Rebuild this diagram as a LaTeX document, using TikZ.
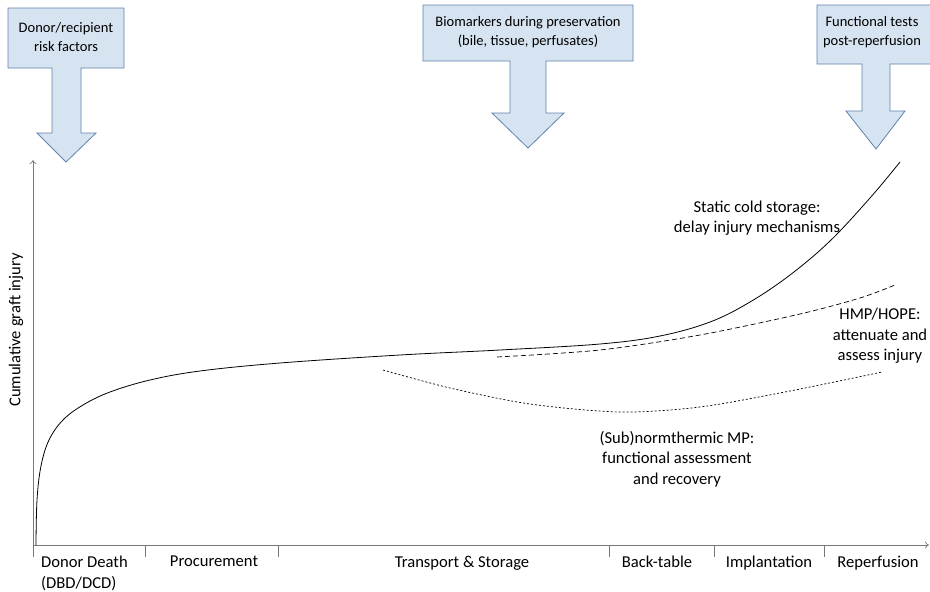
\documentclass[tikz,border=0pt]{standalone}
\usepackage{fontspec}
\setmainfont{Carlito}
\usetikzlibrary{arrows.meta}
\definecolor{callfill}{RGB}{214,228,241}
\definecolor{calldraw}{RGB}{96,130,172}
\definecolor{axisgray}{RGB}{120,120,120}
\tikzset{
  callout/.style={fill=callfill,draw=calldraw,line width=0.8pt},
  calltext/.style={align=center,font=\fontsize{14.5}{19}\selectfont,inner sep=0pt},
  lbl/.style={align=center,font=\fontsize{16.6}{20.5}\selectfont,inner sep=0pt},
  axisline/.style={draw=axisgray,line width=0.7pt},
  curve/.style={line width=0.8pt,black},
}
\begin{document}
\begin{tikzpicture}[x=1pt,y=-1pt]
\useasboundingbox (0,0) rectangle (930,592);
% callouts
\draw[callout] (8,8) -- (124,8) -- (124,68) -- (81,68) -- (81,133) -- (96,133) -- (66,162) -- (37,133) -- (52,133) -- (52,68) -- (8,68) -- cycle;
\node[calltext] (c1) at (66,37) {Donor/recipient\\risk factors};
\draw[callout] (423,5) -- (633,5) -- (633,61) -- (546,61) -- (546,113) -- (564,113) -- (528,148) -- (492,113) -- (510,113) -- (510,61) -- (423,61) -- cycle;
\node[calltext] (c2) at (528,32) {Biomarkers during preservation\\(bile, tissue, perfusates)};
\begin{scope}
\clip (0,0) rectangle (930,592);
\draw[callout] (817,5) -- (940,5) -- (940,64) -- (890,64) -- (890,111) -- (905,111) -- (876,149) -- (846,111) -- (862,111) -- (862,64) -- (817,64) -- cycle;
\end{scope}
\node[calltext] (c3) at (872,32) {Functional tests\\post-reperfusion};
% axes
\coordinate (o) at (33,545);
\coordinate (ytop) at (33,160);
\coordinate (xend) at (929,545);
\draw[axisline,-{To[length=4pt,width=7pt]}] (o) -- (ytop);
\draw[axisline,-{To[length=4pt,width=7pt]}] (o) -- (xend);
\foreach \x in {33,145,278,609,714,824}{
  \draw[axisline] (\x,545) -- (\x,557);
}
\node[lbl,rotate=90] (ylab) at (16,330) {Cumulative graft injury};
% phase labels
\node[lbl,anchor=north west,align=left] (p1) at (41,556) {Donor Death\\(DBD/DCD)};
\node[lbl,anchor=north] (p2) at (214,556) {Procurement};
\node[lbl,anchor=north] (p3) at (462,556) {Transport \& Storage};
\node[lbl,anchor=north] (p4) at (657,556) {Back-table};
\node[lbl,anchor=north] (p5) at (769,556) {Implantation};
\node[lbl,anchor=north] (p6) at (878,556) {Reperfusion};
% curves
\draw[curve] plot[smooth,tension=0.6] coordinates {(36,545) (37,500) (41,466) (49,440) (63,420) (83,405) (110,392) (150,380) (200,371) (280,363) (400,355) (500,350) (600,344) (660,336) (710,322) (750,302) (790,275) (830,241) (870,198) (900,162)};
\draw[curve,dashed,dash pattern=on 5pt off 3pt,line width=0.7pt] plot[smooth] coordinates {(497,357) (600,350) (700,335) (800,314) (860,298) (895,285)};
\draw[curve,dash pattern=on 2pt off 2pt,line width=0.7pt] plot[smooth] coordinates {(383,370) (450,388) (530,404) (620,412) (700,407) (790,391) (882,372)};
% curve labels
\node[lbl] (scs) at (757,218) {Static cold storage:\\delay injury mechanisms};
\node[lbl] (hmp) at (880,336) {HMP/HOPE:\\attenuate and\\assess injury};
\node[lbl] (nmp) at (677,459) {(Sub)normthermic MP:\\functional assessment\\and recovery};
\end{tikzpicture}
\end{document}
